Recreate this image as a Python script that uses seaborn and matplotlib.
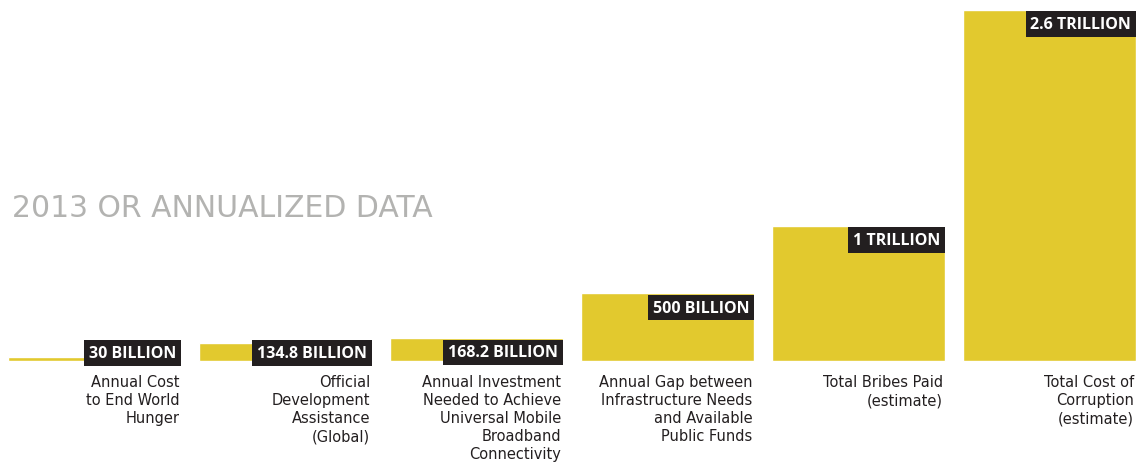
import pandas as pd
import matplotlib
matplotlib.use("Agg")
import matplotlib.pyplot as plt
import seaborn as sns

# data (billions of USD)
kategorier = ["hunger", "oda", "broadband", "infrastructure", "bribes", "corruption"]
verdier = [30, 134.8, 168.2, 500, 1000, 2600]
verdi_tekst = ["30 BILLION", "134.8 BILLION", "168.2 BILLION", "500 BILLION",
               "1 TRILLION", "2.6 TRILLION"]
beskrivelser = [
    "Annual Cost\nto End World\nHunger",
    "Official\nDevelopment\nAssistance\n(Global)",
    "Annual Investment\nNeeded to Achieve\nUniversal Mobile\nBroadband\nConnectivity",
    "Annual Gap between\nInfrastructure Needs\nand Available\nPublic Funds",
    "Total Bribes Paid\n(estimate)",
    "Total Cost of\nCorruption\n(estimate)",
]
tittel = "2013 OR ANNUALIZED DATA"

GUL = "#e2c92e"
SVART = "#231f20"
GRA = "#b3b3b1"

sns.set_theme(style="white")
plt.rcParams["font.family"] = ["DejaVu Sans"]

df = pd.DataFrame({"kategori": kategorier, "verdi": verdier})

fig = plt.figure(figsize=(11.36, 4.64), dpi=100)
ax = fig.add_axes([0, 0, 1, 1])
bredde = 0.906
sns.barplot(data=df, x="kategori", y="verdi", color=GUL, saturation=1,
            width=bredde, ax=ax)
ax.axis("off")

# pixel scale: ~0.135 px per billion, baseline at y=361.7 px from top
skala = 0.135
ax.set_ylim(-(464 - 361.7) / skala, 361.7 / skala)
ax.set_xlim(-94.3 / 191, (1136 - 94.3) / 191)

for i, (v, tekst, besk) in enumerate(zip(verdier, verdi_tekst, beskrivelser)):
    hoyre = i + bredde / 2
    topp = max(v, 165)
    ax.annotate(tekst, xy=(hoyre, topp), xytext=(-3.3, -4.6),
                textcoords="offset points", ha="right", va="top",
                color="white", fontsize=11.5, fontweight="bold",
                family=["Open Sans", "DejaVu Sans"],
                bbox=dict(boxstyle="square,pad=0.3", fc=SVART, ec="none"))
    ax.annotate(besk, xy=(hoyre, 0), xytext=(-1.2, -9.8),
                textcoords="offset points", ha="right", va="top",
                multialignment="right", color=SVART, fontsize=10.5,
                linespacing=1.25)

fig.text(12 / 1136, (464 - 217.3) / 464, tittel, color=GRA, fontsize=21.5,
         ha="left", va="baseline")

fig.savefig("out.png", dpi=100)
